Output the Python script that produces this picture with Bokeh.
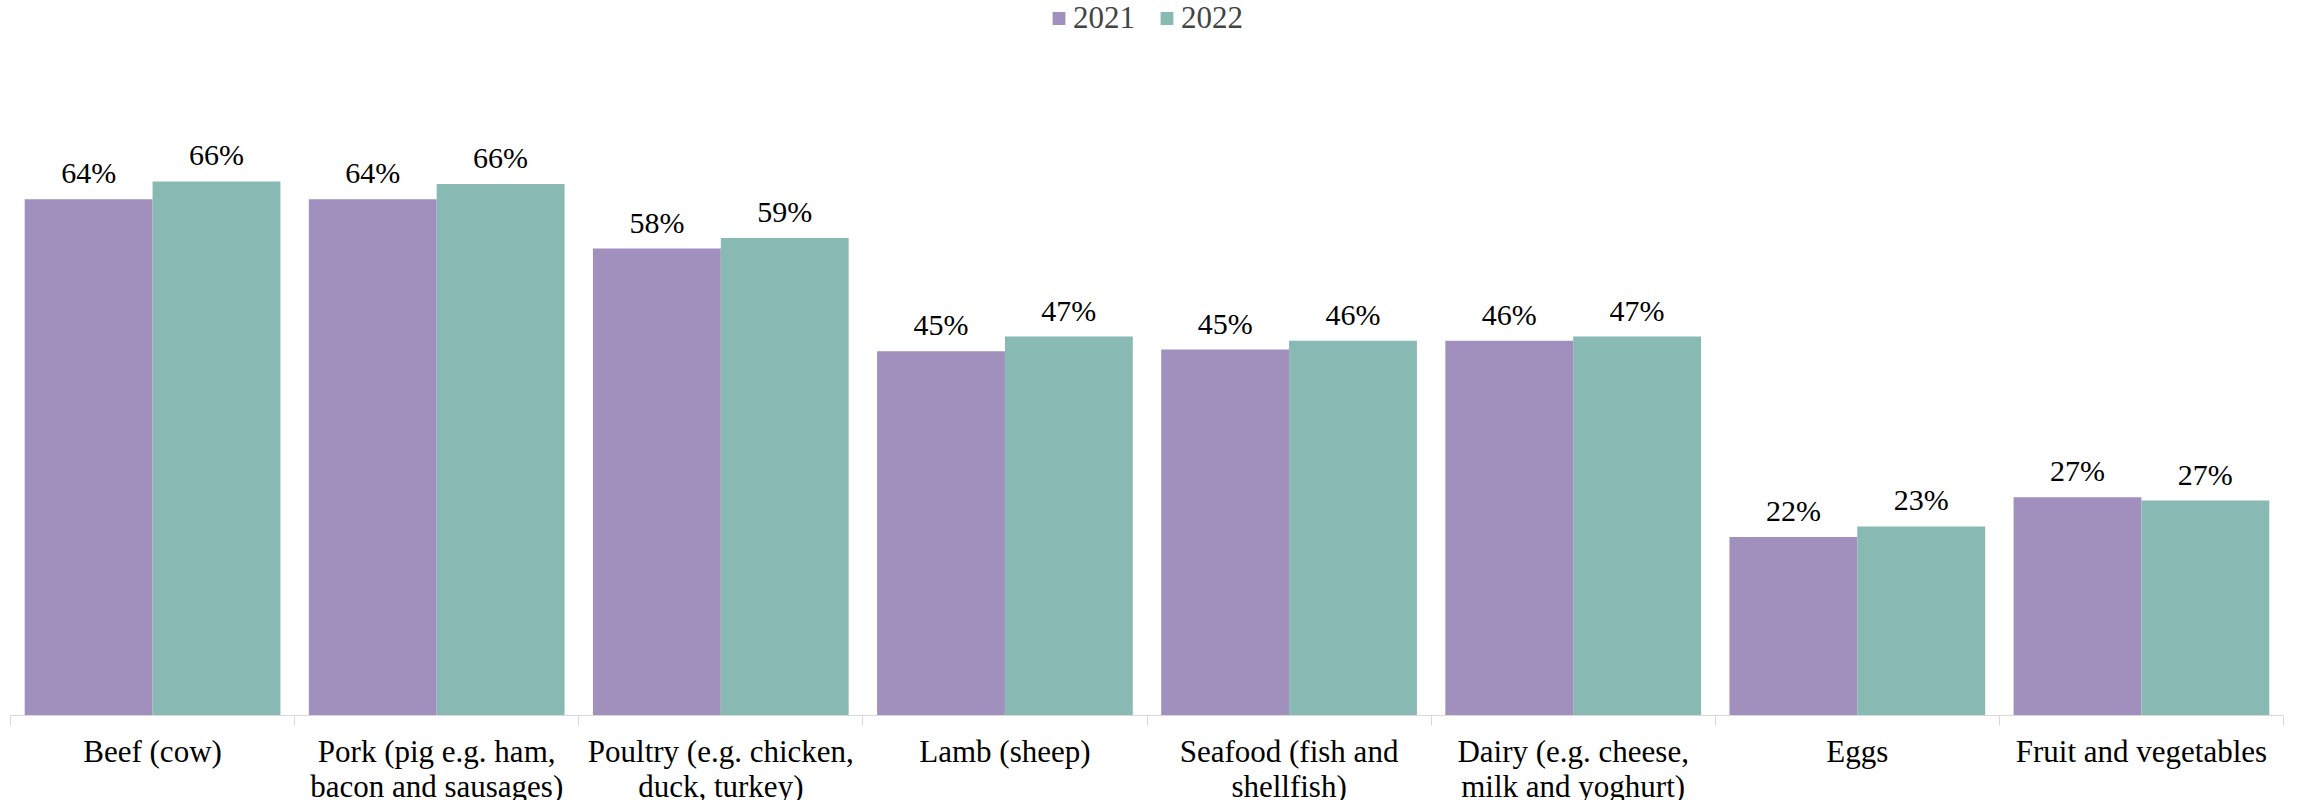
from bokeh.plotting import figure
from bokeh.models import ColumnDataSource, Range1d, FixedTicker, LabelSet, Legend, LegendItem
from bokeh.transform import dodge
from bokeh.embed import file_html
from bokeh.resources import INLINE

categories = ["Beef (cow)", "Pork (pig e.g. ham,\nbacon and sausages)", "Poultry (e.g. chicken,\nduck, turkey)",
              "Lamb (sheep)", "Seafood (fish and\nshellfish)", "Dairy (e.g. cheese,\nmilk and yoghurt)",
              "Eggs", "Fruit and vegetables"]
series_names = ["2021", "2022"]
values_2021 = [63.9, 63.9, 57.8, 45.1, 45.3, 46.4, 22.1, 27.0]
values_2022 = [66.1, 65.8, 59.1, 46.9, 46.4, 46.9, 23.4, 26.6]

FONT = "Liberation Serif"
C21 = "#A190BE"
C22 = "#88B9B3"

pos = [i + 0.5 for i in range(len(categories))]
src = ColumnDataSource(dict(
    x=pos, v21=values_2021, v22=values_2022,
    t21=[f"{round(v)}%" for v in values_2021],
    t22=[f"{round(v)}%" for v in values_2022],
))

p = figure(width=2297, height=806, output_backend="svg", toolbar_location=None,
           x_range=Range1d(0, len(categories)), y_range=Range1d(0, 88.5),
           y_axis_location=None, min_border_left=10, min_border_right=14,
           min_border_top=0, min_border_bottom=84)
p.outline_line_color = None
p.grid.visible = False

r1 = p.vbar(x=dodge("x", -0.225, range=p.x_range), top="v21", width=0.45, source=src,
            fill_color=C21, line_color=None)
r2 = p.vbar(x=dodge("x", 0.225, range=p.x_range), top="v22", width=0.45, source=src,
            fill_color=C22, line_color=None)

for col, txt, off in [("v21", "t21", -0.225), ("v22", "t22", 0.225)]:
    ls = LabelSet(x=dodge("x", off, range=p.x_range), y=col, text=txt, source=src,
                  text_align="center", text_baseline="bottom", y_offset=10,
                  text_font=FONT, text_font_size="30px", text_color="#000000")
    p.add_layout(ls)

ax = p.xaxis[0]
ax.ticker = FixedTicker(ticks=pos, minor_ticks=list(range(len(categories) + 1)))
ax.major_label_overrides = {x: c for x, c in zip(pos, categories)}
ax.major_tick_line_color = None
ax.minor_tick_line_color = "#D9D9D9"
ax.minor_tick_in = 0
ax.minor_tick_out = 10
ax.axis_line_color = "#D9D9D9"
ax.major_label_text_font = FONT
ax.major_label_text_font_size = "31px"
ax.major_label_text_line_height = 1.0
ax.major_label_text_color = "#000000"
ax.major_label_standoff = 8

legend = Legend(items=[LegendItem(label=series_names[0], renderers=[r1]),
                       LegendItem(label=series_names[1], renderers=[r2])],
                location="top_center", orientation="horizontal",
                border_line_color=None, background_fill_alpha=0,
                label_text_font=FONT, label_text_font_size="31px",
                glyph_width=16, glyph_height=16, label_standoff=7, spacing=23,
                padding=0, margin=0)
p.add_layout(legend)

open("out.html", "w").write(file_html(p, INLINE))
